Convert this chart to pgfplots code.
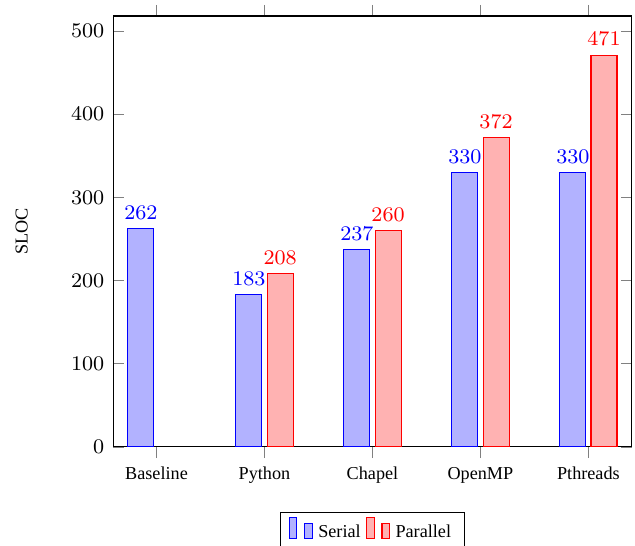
\documentclass[border=0pt]{standalone}
\usepackage{fontspec}
\setmainfont{Liberation Serif}
\usepackage{pgfplots}
\pgfplotsset{compat=1.18}
\newcommand\txt{\fontsize{7}{8.4}\selectfont}
\begin{document}
\begin{tikzpicture}
\useasboundingbox (-43.6pt,-38.1pt) rectangle (200.7pt,171.95pt);
\begin{axis}[
  scale only axis, width=199.4pt, height=165.8pt,
  ybar, bar width=10pt,
  xmin=-0.4, xmax=4.4, ymin=0, ymax=518,
  xtick={0,1,2,3,4},
  xticklabels={Baseline,Python,Chapel,OpenMP,Pthreads},
  ytick={0,100,200,300,400,500},
  xtick align=outside,
  ylabel={SLOC},
  ylabel style={at={(axis description cs:-0.177,0.5)}, anchor=center, font=\txt},
  x tick label style={font=\txt},
  y tick label style={font=\footnotesize},
  nodes near coords,
  nodes near coords style={font=\footnotesize},
  legend style={at={(0.5,-0.15)}, anchor=north, legend columns=-1, font=\txt},
]
\addplot coordinates {(0,262) (1,183) (2,237) (3,330) (4,330)};
\addplot coordinates {(1,208) (2,260) (3,372) (4,471)};
\legend{Serial,Parallel}
\end{axis}
\end{tikzpicture}
\end{document}
